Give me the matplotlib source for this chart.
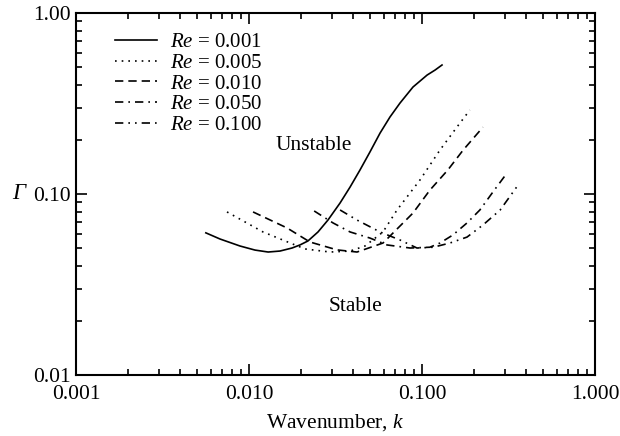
import matplotlib
matplotlib.use('Agg')
import matplotlib.pyplot as plt
from matplotlib.ticker import FixedLocator, FixedFormatter, LogLocator, NullFormatter

plt.rcParams['font.family'] = ['Liberation Serif', 'DejaVu Serif']
plt.rcParams['mathtext.fontset'] = 'custom'
plt.rcParams['mathtext.rm'] = 'Liberation Serif'
plt.rcParams['mathtext.it'] = 'Liberation Serif:italic'

# values
re_labels = ['0.001', '0.005', '0.010', '0.050', '0.100']

k_001 = [0.00563, 0.0068, 0.00887, 0.01083, 0.0129, 0.0151, 0.01773, 0.0197, 0.0219, 0.02505, 0.0286,
         0.0336, 0.0384, 0.0438, 0.05, 0.0572, 0.0653, 0.0746, 0.0887, 0.107, 0.119, 0.1305]
g_001 = [0.061, 0.0564, 0.0516, 0.049, 0.0478, 0.0484, 0.0503, 0.0523, 0.055, 0.0617, 0.0718,
         0.0892, 0.1093, 0.1357, 0.1706, 0.217, 0.2664, 0.318, 0.39, 0.454, 0.484, 0.516]

k_005 = [0.00746, 0.01205, 0.0173, 0.0211, 0.0294, 0.0384, 0.0468, 0.0595, 0.0717, 0.0973, 0.127, 0.159, 0.189]
g_005 = [0.0796, 0.0617, 0.0536, 0.0497, 0.0478, 0.0484, 0.0516, 0.0617, 0.0816, 0.1195, 0.175, 0.234, 0.291]

k_010 = [0.01055, 0.0166, 0.0225, 0.0323, 0.0421, 0.0595, 0.0887, 0.111, 0.141, 0.173, 0.225]
g_010 = [0.0796, 0.0649, 0.0543, 0.0491, 0.0478, 0.0536, 0.0785, 0.105, 0.1357, 0.175, 0.234]

k_050 = [0.0238, 0.0306, 0.0384, 0.05, 0.0628, 0.0853, 0.111, 0.127, 0.151, 0.182, 0.216, 0.257, 0.31]
g_050 = [0.0806, 0.0692, 0.0617, 0.0571, 0.0523, 0.0503, 0.0508, 0.0536, 0.0594, 0.0692, 0.0816, 0.1026, 0.1306]

k_100 = [0.0336, 0.0421, 0.0572, 0.0746, 0.0935, 0.116, 0.145, 0.182, 0.225, 0.283, 0.359]
g_100 = [0.0816, 0.0718, 0.0617, 0.0557, 0.0503, 0.0508, 0.0536, 0.0578, 0.0674, 0.0816, 0.112]

x_ticks = [0.001, 0.01, 0.1, 1.0]
x_ticklabels = ['0.001', '0.010', '0.100', '1.000']
y_ticks = [0.01, 0.1, 1.0]
y_ticklabels = ['0.01', '0.10', '1.00']

fig = plt.figure(figsize=(6.2, 4.36), dpi=100)
ax = fig.add_axes([0.1226, 0.1399, 0.8371, 0.8303])

lw = 1.2
ax.plot(k_001, g_001, color='black', lw=lw, linestyle='-', label='$Re$ = ' + re_labels[0])
ax.plot(k_005, g_005, color='black', lw=lw, linestyle=(0, (1, 3)), label='$Re$ = ' + re_labels[1])
ax.plot(k_010, g_010, color='black', lw=lw, linestyle=(0, (5, 3)), label='$Re$ = ' + re_labels[2])
ax.plot(k_050, g_050, color='black', lw=lw, linestyle=(0, (5, 3, 1, 3)), label='$Re$ = ' + re_labels[3])
ax.plot(k_100, g_100, color='black', lw=lw, linestyle=(0, (5, 3, 1, 3, 1, 3)), label='$Re$ = ' + re_labels[4])

ax.set_xscale('log')
ax.set_yscale('log')
ax.set_xlim(0.001, 1.0)
ax.set_ylim(0.01, 1.0)

ax.xaxis.set_major_locator(FixedLocator(x_ticks))
ax.xaxis.set_major_formatter(FixedFormatter(x_ticklabels))
ax.yaxis.set_major_locator(FixedLocator(y_ticks))
ax.yaxis.set_major_formatter(FixedFormatter(y_ticklabels))
ax.xaxis.set_minor_locator(LogLocator(base=10, subs=range(2, 10)))
ax.yaxis.set_minor_locator(LogLocator(base=10, subs=range(2, 10)))
ax.xaxis.set_minor_formatter(NullFormatter())
ax.yaxis.set_minor_formatter(NullFormatter())

ax.tick_params(which='both', direction='in', top=True, right=True, width=1.2, labelsize=15.5)
ax.tick_params(which='major', length=8)
ax.tick_params(which='minor', length=4)
ax.tick_params(axis='x', which='major', pad=7)
ax.tick_params(axis='y', which='major', pad=4)
for s in ax.spines.values():
    s.set_linewidth(1.5)

ax.set_xlabel('Wavenumber, $k$', fontsize=15.5, labelpad=6)
ax.text(-0.11, 0.502, 'Γ', transform=ax.transAxes, fontsize=16.5, style='italic',
        ha='center', va='center')

ax.text(0.459, 0.635, 'Unstable', transform=ax.transAxes, fontsize=15.5, ha='center', va='center')
ax.text(0.538, 0.188, 'Stable', transform=ax.transAxes, fontsize=15.5, ha='center', va='center')

ax.legend(loc='upper left', bbox_to_anchor=(0.06, 0.968), frameon=False, fontsize=15,
          handlelength=2.0, handletextpad=0.6, labelspacing=0.05, borderaxespad=0)

fig.savefig('out.png', dpi=100)
